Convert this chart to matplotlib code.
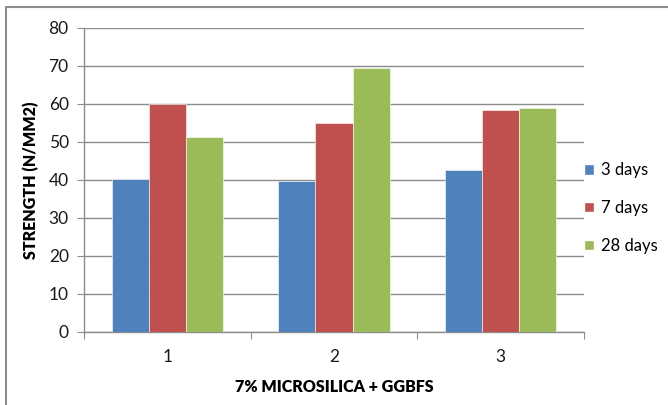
import numpy as np
import matplotlib
matplotlib.use('Agg')
from matplotlib import pyplot as plt
from matplotlib.patches import Rectangle, Patch

plt.rcParams['font.family'] = ['Lato', 'DejaVu Sans']

categories = ['1', '2', '3']
series_names = ['3 days', '7 days', '28 days']
strength_3d = [40.2, 39.7, 42.7]
strength_7d = [60.0, 54.9, 58.3]
strength_28d = [51.2, 69.4, 58.9]
yticks = [0, 10, 20, 30, 40, 50, 60, 70, 80]
colors = ['#4F81BD', '#C0504D', '#9BBB59']

W, H = 668, 405
fig = plt.figure(figsize=(W / 100, H / 100), dpi=100, facecolor='w')
ax = fig.add_axes([84 / W, 1 - 332 / H, 500 / W, 304 / H])

x = np.arange(len(categories))
bw = 1 / 4.5
for i, vals in enumerate([strength_3d, strength_7d, strength_28d]):
    ax.bar(x + (i - 1) * bw, vals, width=bw, color=colors[i],
           edgecolor='white', linewidth=0.4, zorder=3, label=series_names[i])

ax.set_xlim(-0.5, len(categories) - 0.5)
ax.set_ylim(0, 80)
ax.set_yticks(yticks)
ax.grid(axis='y', color='#8c8c8c', linewidth=1.0, zorder=0)

grey = '#8c8c8c'
for side in ['top', 'right']:
    ax.spines[side].set_visible(False)
for side in ['left', 'bottom']:
    ax.spines[side].set_color(grey)
    ax.spines[side].set_linewidth(1.0)

# category ticks between groups, labels centered
ax.set_xticks(np.arange(-0.5, len(categories), 1.0))
ax.set_xticklabels([])
ax.set_xticks(x, minor=True)
ax.set_xticklabels(categories, minor=True)
ax.tick_params(axis='x', which='major', length=5, color=grey, direction='out')
ax.tick_params(axis='x', which='minor', length=0, pad=12, labelsize=12.5, labelcolor='#1a1a1a')
ax.tick_params(axis='y', length=5, color=grey, pad=6, labelsize=12.5, labelcolor='#1a1a1a')

ax.set_xlabel('7% MICROSILICA + GGBFS', fontsize=11.5, fontweight='heavy', labelpad=10)
ax.set_ylabel('STRENGTH (N/MM2)', fontsize=11.5, fontweight='heavy', labelpad=7)

handles = [Patch(facecolor=c, edgecolor='white') for c in colors]
fig.legend(handles, series_names, loc='center left', bbox_to_anchor=(584 / W, 1 - 208 / H),
           frameon=False, fontsize=12, handlelength=0.6, handleheight=0.6,
           handletextpad=0.4, labelspacing=1.3, borderpad=0, borderaxespad=0)

# outer chart border (cropped on right and bottom)
fig.add_artist(Rectangle((6 / W, -0.1), 1.2, 1 - 7 / H + 0.1, transform=fig.transFigure,
                         fill=False, edgecolor='#8c8c8c', linewidth=1.5))

fig.savefig('out.png', dpi=100, facecolor='w')
